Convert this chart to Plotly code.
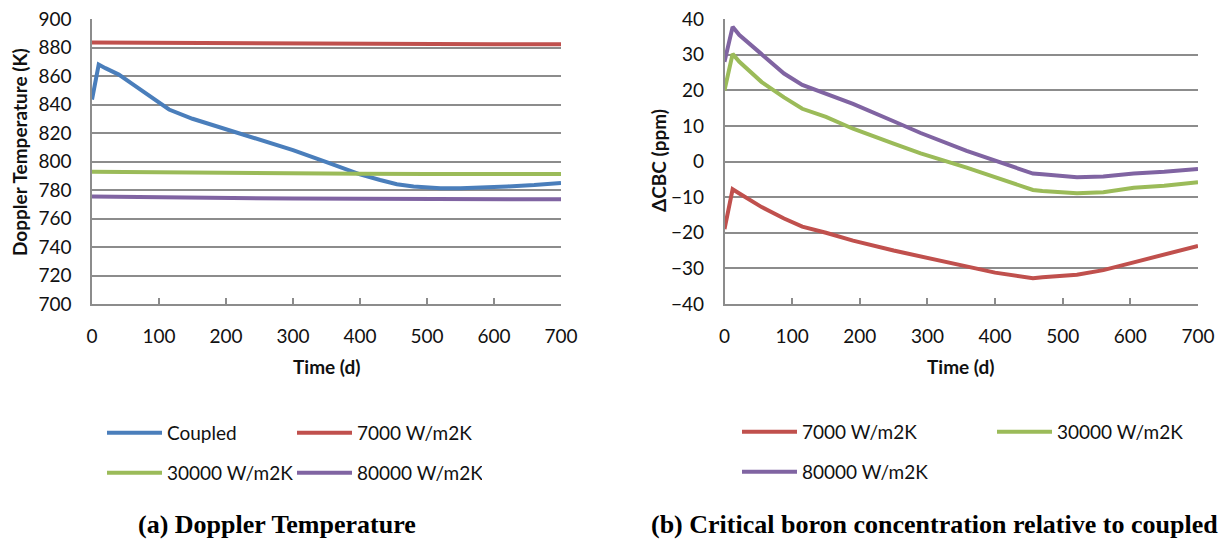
import plotly.graph_objects as go

# ---- Doppler temperature (K) vs time (d) ----
t_coupled = [0, 10, 20, 40, 60, 80, 100, 115, 150, 200, 250, 300, 350, 400, 430, 455, 480, 500, 520, 550, 580, 620, 660, 700]
temp_coupled = [843.5, 868, 865.5, 861, 854.5, 848, 841, 836.5, 830, 822.8, 815.5, 808, 799.5, 791, 787, 784, 782.5, 781.8, 781.2, 781.2, 781.6, 782.5, 783.5, 785]
t_flat = [0, 100, 200, 300, 400, 500, 600, 700]
temp_7000 = [883.5, 883.2, 882.9, 882.6, 882.4, 882.3, 882.2, 882.2]
temp_30000 = [792.8, 792.3, 791.9, 791.6, 791.4, 791.3, 791.3, 791.3]
temp_80000 = [775.5, 774.8, 774.3, 774, 773.8, 773.6, 773.5, 773.5]

# ---- Critical boron concentration difference (ppm) vs time (d) ----
t_cbc = [0, 12, 22, 55, 88, 115, 150, 190, 250, 290, 358, 400, 456, 470, 521, 560, 605, 650, 700]
cbc_7000 = [-19, -7.8, -9, -12.8, -16, -18.3, -20, -22.2, -25, -26.7, -29.7, -31.2, -32.8, -32.5, -31.8, -30.5, -28.3, -26.2, -23.7]
cbc_30000 = [20, 30.2, 28, 22.3, 18, 14.8, 12.5, 9.2, 5, 2.3, -1.7, -4.5, -8, -8.3, -8.9, -8.6, -7.4, -6.8, -5.8]
cbc_80000 = [28, 37.8, 35.5, 30, 24.7, 21.5, 19, 16.2, 11.3, 8, 3, 0.2, -3.4, -3.6, -4.4, -4.2, -3.4, -2.9, -2.1]

x_ticks = [0, 100, 200, 300, 400, 500, 600, 700]

BLUE, RED, GREEN, PURPLE = "#4A7EBB", "#C0504D", "#9BBB59", "#8064A2"
GRID = "#8C8C8C"
SANS = "Lato, 'Open Sans', sans-serif"
SERIF = "'Liberation Serif', 'Times New Roman', serif"
W, H = 1226, 540

fig = go.Figure()

def add(x, y, name, color, xa, ya, legend):
    fig.add_trace(go.Scatter(x=x, y=y, name=name, mode="lines",
                             line=dict(color=color, width=4),
                             xaxis=xa, yaxis=ya, legend=legend))

add(t_coupled, temp_coupled, "Coupled", BLUE, "x", "y", "legend")
add(t_flat, temp_7000, "7000 W/m2K", RED, "x", "y", "legend")
add(t_flat, temp_30000, "30000 W/m2K", GREEN, "x", "y", "legend2")
add(t_flat, temp_80000, "80000 W/m2K", PURPLE, "x", "y", "legend2")

add(t_cbc, cbc_7000, "7000 W/m2K", RED, "x2", "y2", "legend3")
add(t_cbc, cbc_30000, "30000 W/m2K", GREEN, "x2", "y2", "legend3")
add(t_cbc, cbc_80000, "80000 W/m2K", PURPLE, "x2", "y2", "legend4")

def px_x(p):
    return p / W

def px_y(p):
    return 1 - p / H

top, bottom = 19, 304
ydom = [px_y(bottom), px_y(top)]
x1 = [px_x(92), px_x(561)]
x2 = [px_x(724.5), px_x(1198)]

xax = dict(range=[0, 700], tickvals=x_ticks, showgrid=False, zeroline=False,
           showline=True, linecolor=GRID, linewidth=1.5, automargin=False,
           ticks="inside", ticklen=6, tickcolor=GRID, tickwidth=1.5,
           ticklabelstandoff=14,
           tickfont=dict(family=SANS, size=19, color="#111"))
yax = dict(showgrid=True, gridcolor=GRID, gridwidth=1.5, zeroline=False,
           showline=True, linecolor=GRID, linewidth=1.5, ticks="",
           automargin=False, ticklabelstandoff=15,
           tickfont=dict(family=SANS, size=19, color="#111"))

fig.update_layout(
    width=W, height=H,
    margin=dict(l=0, r=0, t=0, b=0, autoexpand=False),
    paper_bgcolor="white", plot_bgcolor="white",
    xaxis=dict(xax, domain=x1, anchor="y"),
    yaxis=dict(yax, domain=ydom, anchor="x", range=[700, 900], dtick=20),
    xaxis2=dict(xax, domain=x2, anchor="y2"),
    yaxis2=dict(yax, domain=ydom, anchor="x2", range=[-40, 40], dtick=10),
)

leg = dict(orientation="h", xanchor="left", yanchor="middle",
           bgcolor="rgba(0,0,0,0)", itemwidth=55,
           font=dict(family=SANS, size=19, color="#111"),
           entrywidthmode="pixels", tracegroupgap=0)
fig.update_layout(
    legend=dict(leg, x=px_x(102), y=px_y(433), entrywidth=120),
    legend2=dict(leg, x=px_x(102), y=px_y(473), entrywidth=120),
    legend3=dict(leg, x=px_x(737), y=px_y(432), entrywidth=185),
    legend4=dict(leg, x=px_x(737), y=px_y(472), entrywidth=185),
)

ann = [
    dict(text="<b>Time (d)</b>", x=px_x(326.5), y=px_y(366)),
    dict(text="<b>Time (d)</b>", x=px_x(961), y=px_y(366)),
    dict(text="<b>Doppler Temperature (K)</b>", x=px_x(20), y=px_y(152), textangle=-90),
    dict(text="<b>ΔCBC (ppm)</b>", x=px_x(658), y=px_y(161), textangle=-90),
]
for a in ann:
    fig.add_annotation(a, xref="paper", yref="paper", showarrow=False,
                       xanchor="center", yanchor="middle",
                       font=dict(family=SANS, size=19, color="#111"))

for text, cx in [("(a) Doppler Temperature", 276.5),
                 ("(b) Critical boron concentration relative to coupled", 934)]:
    fig.add_annotation(text="<b>" + text + "</b>", xref="paper", yref="paper",
                       x=px_x(cx), y=px_y(524), showarrow=False,
                       xanchor="center", yanchor="middle",
                       font=dict(family=SERIF, size=26, color="black"))

fig.write_html("out.html")
